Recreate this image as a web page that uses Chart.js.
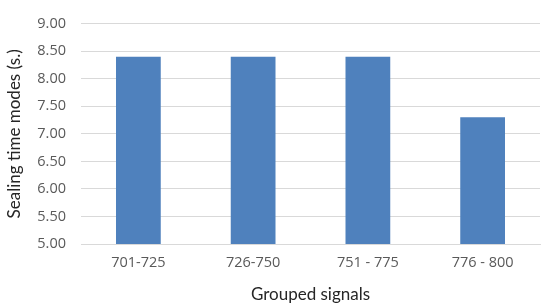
<!DOCTYPE html>
<html>
<head>
<meta charset="utf-8">
<script src="https://cdn.jsdelivr.net/npm/chart.js@4/dist/chart.umd.min.js"></script>
<style>
html,body{margin:0;padding:0;background:#fff;}
#wrap{width:550px;height:305px;position:relative;}
</style>
</head>
<body>
<div id="wrap"><canvas id="c" width="550" height="305"></canvas></div>
<script>
const categories = ["701-725", "726-750", "751 - 775", "776 - 800"];
const sealingTimes = [8.40, 8.40, 8.40, 7.30];
const yMin = 5.00, yMax = 9.00, yStep = 0.5;
const xTitle = "Grouped signals";
const yTitle = "Sealing time modes (s.)";

new Chart(document.getElementById('c'), {
  type: 'bar',
  data: {
    labels: categories,
    datasets: [{
      data: sealingTimes,
      backgroundColor: '#4f81bd',
      borderWidth: 0,
      categoryPercentage: 1.0,
      barPercentage: 0.39
    }]
  },
  options: {
    responsive: false,
    animation: false,
    devicePixelRatio: 1,
    layout: { padding: { top: 13, right: 10, bottom: 0, left: 0 } },
    plugins: { legend: { display: false }, tooltip: { enabled: false } },
    scales: {
      x: {
        grid: { display: false, drawTicks: false },
        border: { display: true, color: '#d9d9d9', width: 1 },
        ticks: { color: '#595959', font: { family: 'Open Sans', size: 14.5 }, padding: 10 },
        title: { display: true, text: xTitle, color: '#262626', font: { family: 'Lato', size: 17 }, padding: { top: 4, bottom: 0 } },
        afterFit: (a) => { a.height = 61; }
      },
      y: {
        min: yMin, max: yMax,
        grid: { color: '#d9d9d9', drawTicks: false },
        border: { display: false },
        ticks: { stepSize: yStep, color: '#595959', font: { family: 'Open Sans', size: 14.5 }, padding: 15,
          callback: (v) => Number(v).toFixed(2) },
        title: { display: true, text: yTitle, color: '#262626', font: { family: 'Lato', size: 17 }, padding: { top: 4, bottom: 6 } },
        afterFit: (a) => { a.width = 81; }
      }
    }
  }
});
</script>
</body>
</html>
